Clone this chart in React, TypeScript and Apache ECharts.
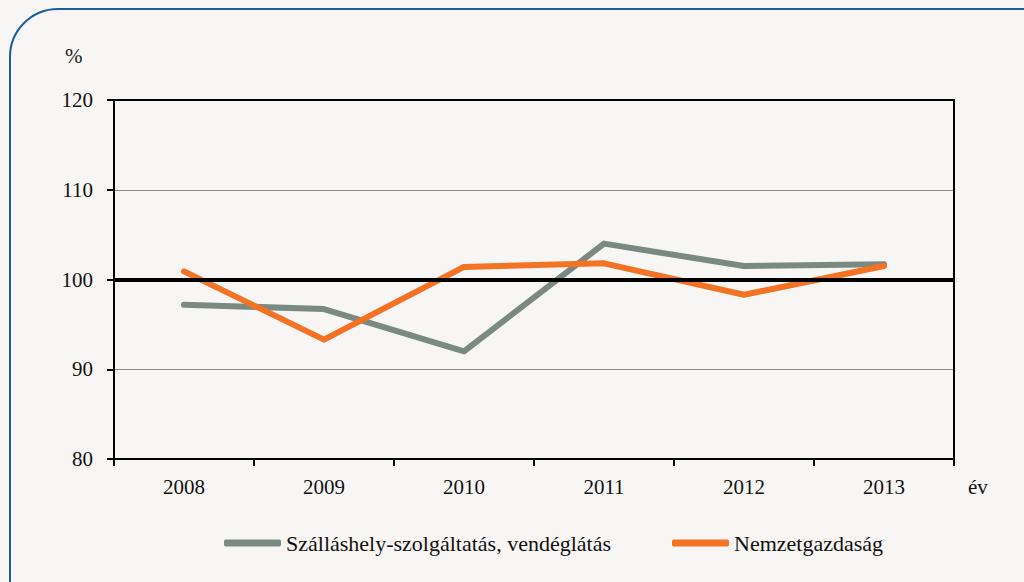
import React, { useEffect, useRef } from "react";
import * as echarts from "echarts";

const years = ["2008", "2009", "2010", "2011", "2012", "2013"];
const szallas = [97.2, 96.7, 92.0, 104.0, 101.5, 101.7];
const nemzet = [100.9, 93.3, 101.4, 101.8, 98.3, 101.5];
const yTicks = { min: 80, max: 120, interval: 10 };
const names = ["Szálláshely-szolgáltatás, vendéglátás", "Nemzetgazdaság"];

const FONT = "Liberation Serif";
const FS = 21;

export default function App() {
  const ref = useRef<HTMLDivElement>(null);
  useEffect(() => {
    const chart = echarts.init(ref.current!, null, { renderer: "svg" });
    chart.setOption({
      animation: false,
      backgroundColor: "#f7f6f4",
      textStyle: { fontFamily: FONT },
      grid: { left: 114, right: 70, top: 100, bottom: 123 },
      legend: {
        left: 219,
        top: 527,
        itemWidth: 57,
        itemHeight: 7,
        itemGap: 61,
        icon: "roundRect",
        textStyle: { fontSize: 22, color: "#111", fontFamily: FONT },
        data: names,
      },
      xAxis: [
        {
          type: "category",
          data: years,
          boundaryGap: true,
          axisLine: { lineStyle: { color: "#000", width: 2 } },
          axisTick: { show: true, length: 7, lineStyle: { color: "#000", width: 2 } },
          axisLabel: { fontSize: FS, color: "#111", margin: 17, fontFamily: FONT },
          splitLine: { show: false },
        },
        {
          type: "category",
          data: years,
          position: "top",
          axisLine: { show: true, lineStyle: { color: "#000", width: 2 } },
          axisTick: { show: false },
          axisLabel: { show: false },
        },
      ],
      yAxis: [
        {
          type: "value",
          min: yTicks.min,
          max: yTicks.max,
          interval: yTicks.interval,
          axisLine: { show: true, lineStyle: { color: "#000", width: 2 } },
          axisTick: { show: true, length: 7, lineStyle: { color: "#000", width: 2 } },
          axisLabel: { fontSize: FS, color: "#111", margin: 21, fontFamily: FONT },
          splitLine: { show: true, lineStyle: { color: "#8a8a8a", width: 1 } },
        },
        {
          type: "value",
          min: yTicks.min,
          max: yTicks.max,
          interval: yTicks.interval,
          position: "right",
          axisLine: { show: true, lineStyle: { color: "#000", width: 2 } },
          axisTick: { show: false },
          axisLabel: { show: false },
          splitLine: { show: false },
        },
      ],
      series: [
        {
          name: names[0],
          type: "line",
          data: szallas,
          symbol: "none",
          lineStyle: { color: "#7a8a82", width: 6, cap: "round", join: "round" },
          itemStyle: { color: "#7a8a82" },
          z: 3,
        },
        {
          name: names[1],
          type: "line",
          data: nemzet,
          symbol: "none",
          lineStyle: { color: "#f47224", width: 6, cap: "round", join: "round" },
          itemStyle: { color: "#f47224" },
          z: 4,
          markLine: {
            silent: true,
            symbol: "none",
            label: { show: false },
            lineStyle: { color: "#000", width: 4, type: "solid" },
            data: [{ yAxis: 100 }],
          },
        },
      ],
      graphic: [
        {
          type: "rect",
          shape: { x: 10, y: 9, width: 1060, height: 640, r: 48 },
          style: { fill: "none", stroke: "#1b5d9b", lineWidth: 2 },
          silent: true,
        },
        {
          type: "text",
          left: 65,
          top: 45,
          style: { text: "%", fontSize: FS, fontFamily: FONT, fill: "#222" },
        },
        {
          type: "text",
          left: 968,
          top: 476,
          style: { text: "év", fontSize: FS, fontFamily: FONT, fill: "#111" },
        },
      ],
    });
    return () => chart.dispose();
  }, []);
  return (
    <div
      ref={ref}
      style={{ position: "fixed", left: 0, top: 0, width: 1024, height: 582 }}
    />
  );
}
